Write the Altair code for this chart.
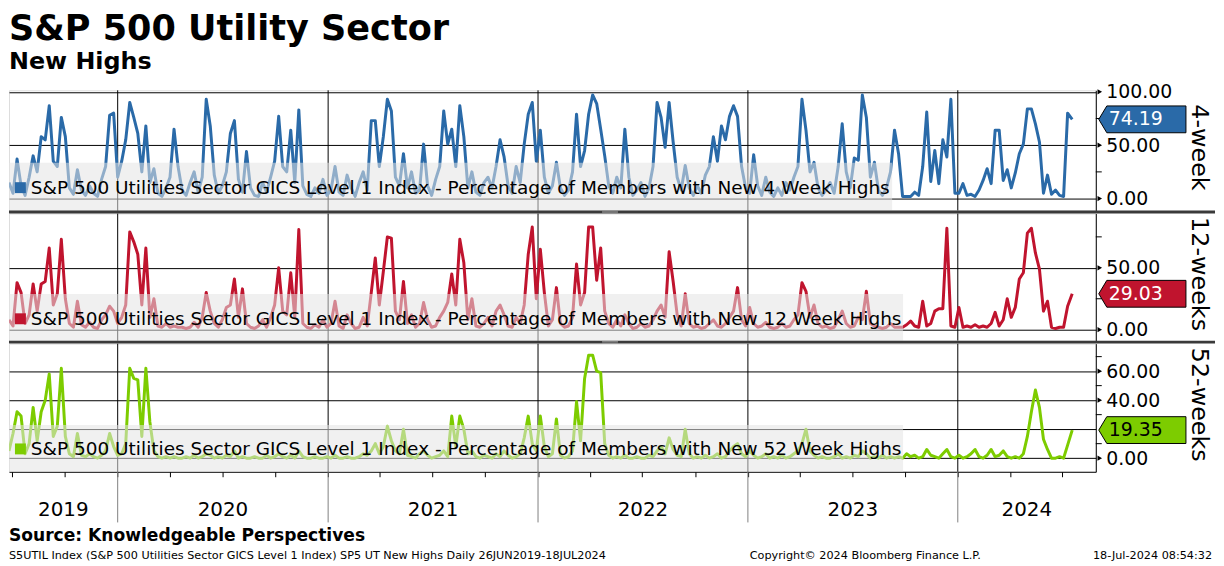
import altair as alt
import pandas as pd

# ---------------- data (weekly samples) ----------------
week4 = [
    15, 5, 37, 12, 3, 20, 40, 25, 58, 55,
    87, 35, 30, 76, 58, 10, 4, 27, 8, 3,
    12, 5, 2, 18, 30, 78, 80, 20, 35, 55,
    90, 76, 61, 25, 68, 15, 28, 5, 2, 10,
    20, 65, 30, 8, 3, 15, 25, 6, 20, 93,
    68, 22, 5, 12, 25, 61, 73, 18, 6, 44,
    10, 3, 2, 15, 6, 20, 35, 77, 30, 25,
    64, 15, 83, 12, 4, 2, 10, 5, 18, 3,
    8, 30, 6, 3, 22, 10, 2, 15, 25, 8,
    73, 73, 30, 58, 93, 82, 20, 12, 42, 10,
    25, 5, 8, 51, 12, 3, 18, 30, 82, 51,
    65, 30, 87, 58, 10, 25, 6, 3, 15, 20,
    10, 30, 55, 39, 12, 5, 30, 15, 51, 79,
    90, 35, 64, 20, 5, 12, 34, 10, 3, 8,
    25, 79, 30, 45, 79, 97, 89, 65, 40, 12,
    5, 20, 10, 65, 20, 3, 8, 15, 2, 10,
    30, 90, 76, 48, 90, 53, 20, 8, 31, 10,
    3, 12, 5, 22, 30, 58, 35, 68, 55, 77,
    87, 77, 30, 10, 5, 41, 12, 3, 20, 6,
    2, 10, 3, 15, 8, 20, 30, 93, 64, 25,
    34, 10, 3, 8, 15, 5, 30, 70, 25, 10,
    38, 36, 97, 76, 20, 34, 8, 3, 10, 25,
    64, 42, 2, 2, 2, 6, 3, 30, 81, 16,
    45, 14, 55, 39, 93, 5, 5, 14, 3, 4,
    2, 8, 17, 28, 14, 64, 64, 17, 27, 10,
    24, 42, 51, 84, 84, 70, 53, 5, 22, 4,
    8, 3, 2, 80, 74.19,
]
week12 = [
    8, 3, 38, 30, 5, 12, 37, 15, 37, 39,
    66, 20, 29, 73, 25, 5, 2, 23, 4, 2,
    6, 2, 1, 8, 12, 19, 15, 5, 10, 20,
    79, 71, 61, 20, 66, 10, 25, 3, 2, 5,
    2, 3, 2, 2, 1, 2, 6, 2, 10, 30,
    15, 5, 2, 8, 18, 20, 41, 10, 33, 5,
    2, 1, 3, 8, 2, 10, 20, 50, 15, 12,
    46, 10, 81, 5, 2, 1, 4, 2, 8, 2,
    5, 23, 3, 1, 12, 5, 1, 2, 10, 3,
    30, 58, 20, 47, 75, 74, 15, 8, 39, 5,
    12, 2, 5, 22, 8, 2, 3, 10, 15, 22,
    45, 20, 73, 54, 8, 25, 3, 2, 5, 10,
    3, 15, 20, 12, 3, 2, 10, 5, 20, 61,
    83, 25, 65, 30, 3, 8, 34, 5, 2, 3,
    10, 53, 20, 30, 83, 83, 40, 66, 15, 5,
    2, 8, 3, 12, 5, 1, 2, 5, 2, 3,
    8, 15, 20, 10, 63, 39, 12, 3, 29, 5,
    2, 3, 1, 2, 5, 8, 3, 2, 5, 10,
    15, 34, 8, 3, 18, 5, 2, 3, 6, 2,
    1, 2, 5, 2, 3, 8, 12, 38, 31, 10,
    20, 5, 2, 3, 1, 2, 8, 15, 5, 2,
    3, 10, 8, 31, 5, 3, 2, 1, 2, 5,
    2, 2, 2, 4, 7, 3, 2, 23, 3, 5,
    15, 17, 17, 82, 3, 2, 18, 2, 3, 2,
    4, 2, 3, 2, 5, 14, 3, 8, 25, 10,
    18, 41, 46, 78, 82, 62, 49, 15, 23, 2,
    1, 2, 2, 19, 29.03,
]
week52 = [
    5, 17, 32, 29, 3, 10, 35, 12, 32, 40,
    58, 15, 22, 62, 15, 3, 1, 17, 2, 1,
    3, 1, 0, 2, 5, 17, 8, 2, 3, 10,
    62, 55, 54, 15, 62, 25, 5, 1, 0, 1,
    0, 1, 0, 0, 1, 0, 2, 0, 1, 3,
    2, 0, 1, 0, 2, 1, 5, 0, 1, 0,
    0, 1, 0, 0, 2, 0, 1, 3, 1, 0,
    2, 0, 5, 1, 0, 0, 1, 0, 0, 1,
    0, 2, 0, 0, 1, 0, 0, 1, 3, 2,
    5, 10, 3, 8, 22, 12, 5, 3, 20, 2,
    1, 0, 3, 5, 2, 0, 1, 2, 5, 1,
    29, 8, 29, 20, 3, 5, 1, 0, 2, 1,
    0, 3, 1, 5, 2, 0, 1, 3, 14, 29,
    10, 5, 29, 8, 1, 3, 27, 2, 0, 1,
    5, 39, 12, 55, 71, 71, 60, 59, 10, 2,
    0, 1, 0, 2, 0, 0, 1, 0, 0, 2,
    1, 5, 8, 3, 14, 6, 2, 1, 20, 3,
    0, 1, 0, 2, 0, 1, 3, 0, 1, 5,
    8, 10, 3, 1, 5, 2, 0, 1, 3, 0,
    1, 0, 2, 0, 1, 3, 5, 10, 20, 5,
    2, 0, 1, 0, 0, 1, 3, 0, 1, 0,
    2, 1, 5, 3, 0, 1, 0, 2, 0, 1,
    0, 1, 0, 3, 1, 2, 0, 1, 6, 2,
    1, 0, 3, 6, 1, 0, 2, 0, 1, 3,
    6, 1, 0, 2, 6, 1, 2, 5, 1, 0,
    1, 0, 3, 15, 32, 47, 35, 13, 6, 0,
    0, 1, 0, 9, 19.35,
]
last_values = [74.19, 29.03, 19.35]
panel_titles = ["4-week", "12-weeks", "52-weeks"]
legend_labels = [
    "S&P 500 Utilities Sector GICS Level 1 Index - Percentage of Members with New 4 Week Highs",
    "S&P 500 Utilities Sector GICS Level 1 Index - Percentage of Members with New 12 Week Highs",
    "S&P 500 Utilities Sector GICS Level 1 Index - Percentage of Members with New 52 Week Highs",
]
year_labels = ["2019", "2020", "2021", "2022", "2023", "2024"]
title_text = "S&P 500 Utility Sector"
subtitle_text = "New Highs"
source_text = "Source: Knowledgeable Perspectives"
footer_left = "S5UTIL Index (S&P 500 Utilities Sector GICS Level 1 Index) SP5 UT New Highs  Daily 26JUN2019-18JUL2024"
footer_mid = "Copyright\u00a9 2024 Bloomberg Finance L.P."
footer_right = "18-Jul-2024 08:54:32"

# ---------------- tables ----------------
dates = list(pd.date_range("2019-06-26", periods=265, freq="7D"))
dates[-1] = pd.Timestamp("2024-07-18")
df = pd.DataFrame({"date": dates, "w4": week4, "w12": week12, "w52": week52})

start = pd.Timestamp("2019-06-26")
end = pd.Timestamp("2024-08-28")
xdom = [alt.DateTime(year=2019, month=6, date=26), alt.DateTime(year=2024, month=8, date=28)]
quarters = [alt.DateTime(year=y, month=m, date=1)
            for y in range(2019, 2025) for m in (1, 4, 7, 10)
            if (2019, 7) <= (y, m) <= (2024, 7)]
ybounds = pd.DataFrame({"date": pd.to_datetime(["2020-01-01T00:00:00", "2021-01-01T00:00:00",
                                                  "2022-01-01T00:00:00", "2023-01-01T00:00:00",
                                                  "2024-01-01T00:00:00"])})
mids = []
for lab in year_labels:
    y = int(lab)
    a = max(pd.Timestamp(f"{y}-01-01T00:00:00"), start)
    b = min(pd.Timestamp(f"{y + 1}-01-01T00:00:00"), end)
    mids.append(a + (b - a) / 2)
ylab_df = pd.DataFrame({"date": mids, "label": year_labels})
one = pd.DataFrame({"a": [0]})

W = 1094
FONT = "DejaVu Sans"
blue, red, green = "#2a6aa8", "#c0142e", "#7dcc00"


def make_panel(field, color, ydom, H, axis_vals, label_hide, tri_vals, minor_vals, last,
               tag_txt_color, legend, ptitle, box_top, legend_y, box_right, pos):
    xscale = alt.Scale(domain=xdom)
    if pos == "bottom":
        xaxis = alt.Axis(values=quarters, labels=False, ticks=True, tickSize=5, tickColor="black",
                         domainColor="black", domainWidth=1, grid=False, title=None)
    else:
        xaxis = None
    yscale = alt.Scale(domain=ydom, nice=False, zero=False)
    lab_expr = "format(datum.value, '.2f')"
    if label_hide is not None:
        lab_expr = f"datum.value == {label_hide} ? '' : format(datum.value, '.2f')"
    yaxis = alt.Axis(orient="right", values=axis_vals, labelExpr=lab_expr, labelFontSize=19,
                     labelFont=FONT, labelColor="black", labelPadding=10, ticks=False,
                     domain=True, domainColor="black", domainWidth=1, grid=True,
                     gridColor="black", gridWidth=1, gridOpacity=1, title=None)

    def X(f="date"):
        return alt.X(f"{f}:T", scale=xscale, axis=xaxis, title=None)

    def Y(f):
        return alt.Y(f"{f}:Q", scale=yscale, axis=yaxis, title=None)

    years = alt.Chart(ybounds).mark_rule(color="black", strokeWidth=1).encode(x=X())
    line = alt.Chart(df).mark_line(color=color, strokeWidth=3, strokeJoin="round", clip=True).encode(
        x=X(), y=Y(field))
    box = alt.Chart(one).mark_rect(fill="#e4e4e4", opacity=0.55).encode(
        x=alt.value(0), x2=alt.value(box_right), y=alt.value(box_top), y2=alt.value(H))
    sq = alt.Chart(one).mark_point(shape="square", filled=True, size=121, opacity=1, color=color).encode(
        x=alt.value(11.5), y=alt.value(legend_y))
    ltxt = alt.Chart(one).mark_text(align="left", baseline="middle", fontSize=18.6, font=FONT,
                                    color="black").encode(
        x=alt.value(22), y=alt.value(legend_y), text=alt.value(legend))
    tri = alt.Chart(pd.DataFrame({"v": tri_vals})).mark_point(
        shape="triangle-right", filled=True, color="black", size=28, opacity=1).encode(
        x=alt.value(W + 4), y=Y("v"))
    minor = alt.Chart(pd.DataFrame({"v": minor_vals})).mark_rule(color="black").encode(
        x=alt.value(W), x2=alt.value(W + 6), y=Y("v"))
    lastdf = pd.DataFrame({"v": [last], "t": [f"{last:.2f}"]})
    tag = alt.Chart(lastdf).mark_point(
        shape="M0,0L0.6,-1L6.5,-1L6.5,1L0.6,1Z", filled=True, fill=color, color=color,
        stroke="black", strokeWidth=1, size=729, opacity=1).encode(
        x=alt.value(W + 3), y=Y("v"))
    tagt = alt.Chart(lastdf).mark_text(align="left", baseline="middle", fontSize=19, font=FONT,
                                       color=tag_txt_color).encode(
        x=alt.value(W + 13), y=Y("v"), text="t:N")
    ptl = alt.Chart(one).mark_text(angle=90, align="center", baseline="middle", fontSize=24,
                                   font=FONT, color="black").encode(
        x=alt.value(W + 104), y=alt.value(H / 2 - 3), text=alt.value(ptitle))
    layers = [years, line, box, sq, ltxt, minor, tri, tag, tagt, ptl]

    if pos == "top":
        # invisible spacer that fixes the top edge of the drawing above the title
        layers.append(alt.Chart(one).mark_rect(opacity=0).encode(
            x=alt.value(0), x2=alt.value(10), y=alt.value(-80), y2=alt.value(-79)))
        layers.append(alt.Chart(one).mark_text(align="left", baseline="alphabetic", fontSize=35.3,
                                               fontWeight="bold", font=FONT, color="black").encode(
            x=alt.value(0), y=alt.value(-51), text=alt.value(title_text)))
        layers.append(alt.Chart(one).mark_text(align="left", baseline="alphabetic", fontSize=24,
                                               fontWeight="bold", font=FONT, color="black").encode(
            x=alt.value(0), y=alt.value(-21), text=alt.value(subtitle_text)))
    else:
        # dark separator bar between panels, spanning the full width, with a small grip
        layers.append(alt.Chart(one).mark_rect(color="#3a3a3a").encode(
            x=alt.value(0), x2=alt.value(1214), y=alt.value(-3), y2=alt.value(0)))
        layers.append(alt.Chart(one).mark_rect(color="#b0b0b0").encode(
            x=alt.value(597), x2=alt.value(613), y=alt.value(-2.6), y2=alt.value(-2)))
        layers.append(alt.Chart(one).mark_rect(color="#b0b0b0").encode(
            x=alt.value(597), x2=alt.value(613), y=alt.value(-1), y2=alt.value(-0.4)))
    if pos == "bottom":
        layers.append(alt.Chart(ybounds).mark_rule(color="#808080", strokeWidth=1).encode(
            x=X(), y=alt.value(H), y2=alt.value(H + 51)))
        layers.append(alt.Chart(ylab_df).mark_text(fontSize=20, font=FONT, color="black",
                                                   baseline="middle", align="center").encode(
            x=X(), y=alt.value(H + 39), text="label:N"))
        layers.append(alt.Chart(one).mark_text(align="left", baseline="middle", fontSize=17.2,
                                               fontWeight="bold", font=FONT, color="black").encode(
            x=alt.value(0), y=alt.value(H + 65), text=alt.value(source_text)))
        layers.append(alt.Chart(one).mark_text(align="left", baseline="middle", fontSize=11.3,
                                               font=FONT, color="black").encode(
            x=alt.value(0), y=alt.value(H + 85), text=alt.value(footer_left)))
        layers.append(alt.Chart(one).mark_text(align="center", baseline="middle", fontSize=11.3,
                                               font=FONT, color="black").encode(
            x=alt.value(862), y=alt.value(H + 85), text=alt.value(footer_mid)))
        layers.append(alt.Chart(one).mark_text(align="right", baseline="middle", fontSize=11.3,
                                               font=FONT, color="black").encode(
            x=alt.value(1211), y=alt.value(H + 85), text=alt.value(footer_right)))
    return alt.layer(*layers).properties(width=W, height=H)


p1 = make_panel("w4", blue, [-11.16, 101.4], 121, [0, 50, 100], None, [0, 50, 100], [25, 75],
                last_values[0], "white", legend_labels[0], panel_titles[0], 73, 98, 889, "top")
p2 = make_panel("w12", red, [-8.83, 93.9], 128, [0, 50], None, [0, 50], [25, 75],
                last_values[1], "white", legend_labels[1], panel_titles[1], 81, 106, 900, "mid")
p3 = make_panel("w52", green, [-9.38, 78.97], 129, [0, 20, 40, 60], 20, [0, 40, 60], [10, 30, 50, 70],
                last_values[2], "black", legend_labels[2], panel_titles[2], 82, 106, 900, "bottom")

chart = alt.vconcat(p1, p2, p3, spacing=3, bounds="flush").properties(
    padding=0, background="white"
).configure_view(stroke=None).configure(font=FONT)

chart.save("out.html", embed_options={"renderer": "svg", "actions": False})
